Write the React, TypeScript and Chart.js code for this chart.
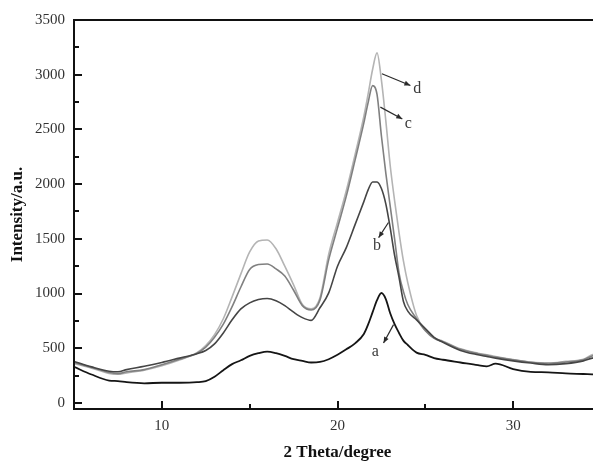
import React, { useEffect, useRef } from "react";
import { Chart, registerables } from "chart.js";

Chart.register(...registerables);

// 2θ grid (degrees)
const twoTheta = [5, 6, 7, 7.5, 8, 9, 10, 11, 12, 12.5, 13, 13.5, 14, 14.5, 15, 15.5, 16, 16.5, 17, 17.5, 18, 18.5, 19, 19.5, 20, 20.5, 21, 21.5, 21.75, 22, 22.25, 22.5, 22.75, 23, 23.25, 23.5, 23.75, 24, 24.5, 25, 25.5, 26, 27, 28, 28.5, 29, 30, 31, 32, 33, 34, 34.5, 35];

const seriesA = [330, 260, 205, 200, 190, 180, 185, 185, 190, 200, 240, 300, 355, 390, 430, 455, 470, 455, 430, 400, 385, 370, 375, 400, 440, 490, 545, 630, 720, 830, 940, 1005, 950, 820, 720, 640, 570, 530, 460, 440, 410, 395, 370, 345, 335, 360, 310, 285, 280, 270, 265, 262, 260];
const seriesB = [380, 330, 290, 285, 305, 335, 370, 410, 450, 480, 540, 640, 760, 860, 915, 945, 955, 935, 890, 830, 780, 755, 870, 1006, 1250, 1420, 1630, 1840, 1950, 2020, 2020, 1960, 1820, 1600, 1350, 1150, 930, 840, 760, 680, 600, 555, 480, 440, 425, 410, 385, 365, 350, 360, 385, 410, 420];
const seriesC = [370, 325, 278, 268, 285, 305, 350, 400, 455, 510, 600, 720, 880, 1060, 1220, 1265, 1270, 1225, 1160, 1030, 890, 850, 940, 1310, 1600, 1890, 2220, 2560, 2750, 2900, 2820, 2440, 2100, 1800, 1500, 1190, 1020, 900, 770, 660, 590, 560, 490, 450, 435, 420, 395, 372, 362, 375, 395, 430, 445];
const seriesD = [360, 318, 270, 262, 275, 300, 340, 392, 460, 525, 625, 770, 970, 1180, 1380, 1480, 1490, 1410, 1250, 1080, 900, 860, 960, 1360, 1650, 1940, 2270, 2620, 2830, 3050, 3200, 2950, 2580, 2170, 1850, 1560, 1300, 1100, 800, 665, 595, 565, 495, 455, 440, 425, 398, 375, 365, 380, 400, 440, 455];

const seriesLabels = ["a", "b", "c", "d"];
const seriesColors = ["#151515", "#454545", "#808080", "#b4b4b4"];

const xTickValues = [10, 20, 30];
const xMinorValues = [15, 25];
const yTickValues = [0, 500, 1000, 1500, 2000, 2500, 3000, 3500];
const yMinorValues = [250, 750, 1250, 1750, 2250, 2750, 3250];

// annotation arrows (data units): from curve to label
const annoFromX = [23.19, 22.9, 22.44, 22.53];
const annoFromY = [716, 1649, 2704, 3009];
const annoToX = [22.62, 22.34, 23.69, 24.15];
const annoToY = [548, 1511, 2596, 2902];
const annoTextX = [22.15, 22.25, 24.03, 24.54];
const annoTextY = [468, 1434, 2550, 2872];

const FONT = '"Liberation Serif", "Times New Roman", serif';

const framePlugin = {
  id: "frameTicks",
  afterDatasetsDraw(chart: any) {
    const { ctx, chartArea, scales } = chart;
    const { left, right, top, bottom } = chartArea;
    const x = scales.x;
    const y = scales.y;
    ctx.save();
    ctx.strokeStyle = "#111";
    ctx.lineWidth = 2;
    ctx.strokeRect(left, top, right - left, bottom - top);
    const seg = (x1: number, y1: number, x2: number, y2: number) => {
      ctx.beginPath();
      ctx.moveTo(x1, y1);
      ctx.lineTo(x2, y2);
      ctx.stroke();
    };
    yTickValues.forEach((v) => {
      const p = Math.round(y.getPixelForValue(v));
      seg(left, p, left + 8, p);
    });
    yMinorValues.forEach((v) => {
      const p = Math.round(y.getPixelForValue(v));
      seg(left, p, left + 5, p);
    });
    xTickValues.forEach((v) => {
      const p = Math.round(x.getPixelForValue(v));
      seg(p, bottom, p, bottom - 8);
    });
    xMinorValues.forEach((v) => {
      const p = Math.round(x.getPixelForValue(v));
      seg(p, bottom, p, bottom - 5);
    });

    // annotations
    ctx.strokeStyle = "#2a2a2a";
    ctx.fillStyle = "#2a2a2a";
    ctx.lineWidth = 1.2;
    for (let i = 0; i < seriesLabels.length; i++) {
      const x1 = x.getPixelForValue(annoFromX[i]);
      const y1 = y.getPixelForValue(annoFromY[i]);
      const x2 = x.getPixelForValue(annoToX[i]);
      const y2 = y.getPixelForValue(annoToY[i]);
      seg(x1, y1, x2, y2);
      const ang = Math.atan2(y2 - y1, x2 - x1);
      const hl = 6;
      const hw = 2.5;
      ctx.beginPath();
      ctx.moveTo(x2, y2);
      ctx.lineTo(x2 - hl * Math.cos(ang) + hw * Math.sin(ang), y2 - hl * Math.sin(ang) - hw * Math.cos(ang));
      ctx.lineTo(x2 - hl * Math.cos(ang) - hw * Math.sin(ang), y2 - hl * Math.sin(ang) + hw * Math.cos(ang));
      ctx.closePath();
      ctx.fill();
      ctx.font = `16px ${FONT}`;
      ctx.fillStyle = "#3a3a3a";
      ctx.textAlign = "center";
      ctx.textBaseline = "middle";
      ctx.fillText(seriesLabels[i], x.getPixelForValue(annoTextX[i]), y.getPixelForValue(annoTextY[i]));
      ctx.fillStyle = "#2a2a2a";
    }
    ctx.restore();
  },
};

export default function App() {
  const ref = useRef<HTMLCanvasElement | null>(null);
  useEffect(() => {
    if (!ref.current) return;
    const series = [seriesA, seriesB, seriesC, seriesD];
    const chart = new Chart(ref.current, {
      type: "line",
      data: {
        datasets: series.map((s, k) => ({
          label: seriesLabels[k],
          data: twoTheta.map((t, i) => ({ x: t, y: s[i] })),
          borderColor: seriesColors[k],
          borderWidth: k === 0 ? 1.8 : 1.6,
          pointRadius: 0,
          fill: false,
          cubicInterpolationMode: "monotone" as const,
        })),
      },
      options: {
        responsive: false,
        animation: false,
        devicePixelRatio: 1,
        layout: { padding: { top: 20, right: 19, left: 0, bottom: 0 } },
        plugins: { legend: { display: false }, tooltip: { enabled: false } },
        scales: {
          x: {
            type: "linear",
            min: 5,
            max: 35,
            afterBuildTicks: (s: any) => {
              s.ticks = xTickValues.map((v) => ({ value: v }));
            },
            afterFit: (s: any) => {
              s.height = 54;
            },
            grid: { display: false, drawTicks: false },
            border: { display: false },
            ticks: {
              font: { family: FONT, size: 15 },
              color: "#333",
              padding: 8,
              maxRotation: 0,
              autoSkip: false,
              callback: (v: any) => String(v),
            },
            title: {
              display: true,
              text: "2 Theta/degree",
              font: { family: FONT, size: 17, weight: "bold" },
              color: "#111",
              padding: { top: 1, bottom: 0 },
            },
          },
          y: {
            type: "linear",
            min: -55,
            max: 3500,
            afterBuildTicks: (s: any) => {
              s.ticks = yTickValues.map((v) => ({ value: v }));
            },
            afterFit: (s: any) => {
              s.width = 74;
            },
            grid: { display: false, drawTicks: false },
            border: { display: false },
            ticks: {
              font: { family: FONT, size: 15 },
              color: "#333",
              padding: 9,
              autoSkip: false,
              callback: (v: any) => String(v),
            },
            title: {
              display: true,
              text: "Intensity/a.u.",
              font: { family: FONT, size: 17, weight: "bold" },
              color: "#111",
              padding: { top: 7, bottom: 0 },
            },
          },
        },
      },
      plugins: [framePlugin],
    });
    return () => chart.destroy();
  }, []);
  return (
    <div style={{ position: "fixed", left: 0, top: 0, width: 593, height: 463, overflow: "hidden", background: "#fff" }}>
      <canvas ref={ref} width={620} height={463} style={{ display: "block", width: 620, height: 463 }} />
    </div>
  );
}
